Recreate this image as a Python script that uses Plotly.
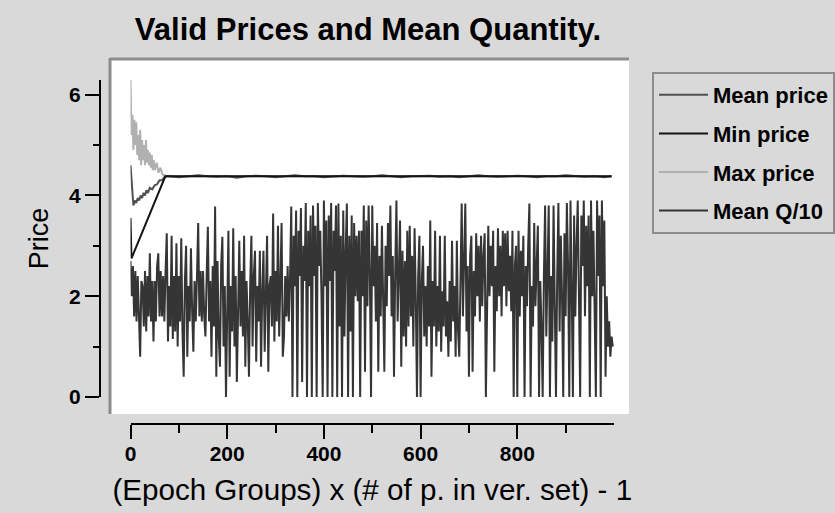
import plotly.graph_objects as go

# ---------------- data ----------------
# Mean Q/10 (sampled every 2.5 epoch units, 0..997.5)
q_x = [i * 2.5 for i in range(400)]
q_y = [
    2.7, 2.0, 2.6, 1.6, 2.5, 1.5, 2.4, 1.6, 0.8, 2.3,
    2.2, 1.4, 2.5, 1.3, 2.4, 1.6, 2.85, 1.5, 2.3, 1.1,
    2.3, 1.5, 2.6, 2.85, 1.6, 2.5, 1.6, 2.4, 1.5, 2.5,
    3.25, 1.1, 2.2, 1.4, 3.2, 1.15, 2.4, 1.3, 3.05, 1.0,
    2.4, 1.5, 3.15, 1.3, 0.4, 2.3, 3.0, 0.8, 2.2, 1.5,
    2.95, 1.7, 0.9, 2.3, 1.5, 2.4, 3.45, 1.6, 2.5, 1.5,
    2.5, 1.6, 1.2, 2.4, 3.38, 1.5, 2.3, 0.8, 2.6, 1.4,
    3.78, 0.4, 2.7, 1.2, 0.6, 2.6, 3.18, 1.0, 2.2, 0.0,
    2.3, 3.3, 0.4, 2.2, 1.3, 3.35, 1.0, 2.4, 0.3, 1.8,
    3.1, 1.4, 2.5, 1.2, 3.2, 0.6, 2.3, 1.5, 0.4, 2.2,
    3.2, 1.0, 2.4, 2.9, 0.7, 2.2, 1.5, 2.9, 0.6, 2.1,
    2.9, 0.9, 2.0, 3.2, 0.5, 2.2, 2.4, 1.4, 3.64, 1.1,
    2.5, 1.5, 3.4, 1.2, 2.3, 3.45, 0.8, 1.2, 2.4, 1.6,
    2.6, 1.5, 2.4, 3.78, 0.0, 3.2, 2.2, 3.7, 0.0, 3.3,
    2.4, 3.75, 0.3, 3.0, 2.3, 3.85, 0.0, 3.3, 2.2, 3.6,
    0.0, 3.8, 2.4, 3.4, 0.0, 3.85, 2.6, 3.3, 2.0, 0.0,
    3.9, 2.2, 3.5, 0.0, 3.6, 2.3, 3.85, 0.0, 3.3, 2.5,
    3.8, 0.0, 3.84, 1.4, 3.2, 0.0, 3.7, 1.2, 2.9, 3.84,
    0.0, 3.2, 1.3, 3.6, 0.0, 3.45, 2.0, 3.2, 1.9, 3.3,
    0.0, 3.3, 2.0, 3.8, 0.5, 3.5, 1.8, 3.8, 2.5, 0.0,
    3.8, 2.2, 3.0, 1.5, 3.45, 0.5, 2.8, 1.6, 3.4, 2.0,
    0.5, 3.0, 1.8, 3.45, 2.4, 3.8, 1.6, 2.8, 0.4, 2.5,
    3.9, 1.5, 2.6, 3.5, 0.6, 2.9, 1.2, 2.7, 1.0, 3.3,
    1.4, 3.4, 1.6, 2.8, 1.0, 3.35, 2.0, 0.0, 2.4, 3.2,
    0.0, 2.3, 3.0, 1.2, 2.2, 1.0, 2.6, 1.4, 3.5, 0.4,
    2.3, 1.4, 3.3, 1.0, 2.2, 1.3, 3.2, 0.9, 2.1, 1.4,
    3.2, 1.2, 1.9, 0.8, 2.3, 1.1, 3.1, 1.5, 2.2, 0.8,
    3.1, 1.3, 0.8, 2.4, 3.84, 1.6, 2.8, 3.84, 1.3, 2.6,
    0.4, 2.8, 3.2, 0.5, 2.5, 1.6, 3.25, 2.0, 3.0, 1.5,
    3.2, 1.8, 2.8, 3.25, 0.0, 2.4, 3.4, 2.0, 3.0, 2.2,
    3.3, 0.5, 2.6, 1.7, 3.35, 2.0, 3.0, 1.6, 3.3, 2.2,
    3.25, 1.8, 3.3, 2.1, 2.8, 1.7, 3.3, 0.0, 2.6, 3.0,
    0.0, 3.3, 1.6, 2.9, 2.0, 3.2, 0.0, 2.6, 1.8, 3.0,
    3.84, 0.0, 2.2, 1.4, 3.45, 1.8, 2.6, 3.4, 0.0, 2.3,
    1.4, 0.0, 2.4, 3.8, 1.2, 2.3, 3.8, 0.0, 2.4, 1.1,
    3.8, 1.8, 0.0, 2.4, 3.85, 1.3, 3.2, 2.0, 0.0, 3.25,
    1.6, 3.85, 2.6, 0.0, 3.9, 2.2, 0.0, 3.6, 1.6, 3.0,
    3.9, 2.0, 0.0, 3.6, 2.6, 3.9, 1.6, 3.4, 2.2, 3.6,
    0.0, 3.9, 2.0, 3.3, 1.6, 0.0, 3.9, 2.4, 3.6, 0.0,
    3.9, 2.2, 3.5, 0.4, 2.0, 1.0, 1.5, 0.8, 1.2, 1.0,
]

# converged part shared by the price curves
tail_x = [80, 100, 120, 140, 160, 180, 200, 220, 240, 260, 280, 300, 320, 340,
          360, 380, 400, 420, 440, 460, 480, 500, 520, 540, 560, 580, 600, 620,
          640, 660, 680, 700, 720, 740, 760, 780, 800, 820, 840, 860, 880, 900,
          920, 940, 960, 980, 995]

mean_head_x = [0, 3, 6, 9, 12, 15, 18, 21, 24, 27, 30, 33, 36, 40, 45, 50, 55, 60, 65, 70, 75]
mean_head_y = [4.6, 4.1, 3.8, 3.9, 3.85, 3.95, 3.9, 4.0, 3.95, 4.05, 4.0, 4.1, 4.05,
               4.15, 4.12, 4.2, 4.22, 4.3, 4.3, 4.36, 4.38]
mean_tail_y = [4.38, 4.36, 4.38, 4.40, 4.38, 4.37, 4.38, 4.35, 4.38, 4.39, 4.38, 4.36,
               4.38, 4.40, 4.38, 4.38, 4.36, 4.38, 4.39, 4.38, 4.37, 4.38, 4.40, 4.38,
               4.36, 4.38, 4.38, 4.39, 4.37, 4.38, 4.36, 4.38, 4.40, 4.38, 4.37, 4.38,
               4.39, 4.38, 4.36, 4.38, 4.38, 4.40, 4.38, 4.37, 4.38, 4.36, 4.38]

min_x = [0, 2, 72, 995]
min_y = [3.55, 2.75, 4.38, 4.38]

max_x = [0, 2, 4, 6, 8, 10, 12, 14, 16, 18, 20, 22, 24, 26, 28, 30, 32, 34, 36, 38,
         40, 42, 44, 46, 48, 50, 54, 58, 62, 66, 70, 75, 995]
max_y = [6.3, 5.2, 5.6, 4.9, 5.5, 5.0, 5.45, 4.8, 5.2, 4.7, 5.3, 4.6, 5.1, 4.7, 5.0,
         4.6, 5.1, 4.65, 4.9, 4.6, 4.85, 4.55, 4.8, 4.5, 4.7, 4.5, 4.65, 4.45, 4.55,
         4.42, 4.4, 4.38, 4.38]

x_ticks = [0, 200, 400, 600, 800]
x_minor = [100, 300, 500, 700, 900]
y_ticks = [0, 2, 4, 6]
y_minor = [1, 3, 5]

# ---------------- figure ----------------
W, H = 835, 513
BG = "#d9d9d9"
FONT = "Liberation Sans, Arial, Helvetica, sans-serif"


def fx(px):
    return px / W


def fy(py):
    return 1 - py / H


fig = go.Figure()

fig.add_trace(go.Scatter(x=max_x, y=max_y, mode="lines", name="Max price",
                         line=dict(color="#b0b0b0", width=2), legendrank=3,
                         legendgroup="c"))
fig.add_trace(go.Scatter(x=mean_head_x + tail_x, y=mean_head_y + mean_tail_y,
                         mode="lines", name="Mean price",
                         line=dict(color="#505050", width=2), legendrank=1,
                         legendgroup="a"))
fig.add_trace(go.Scatter(x=min_x, y=min_y, mode="lines", name="Min price",
                         line=dict(color="#151515", width=2), legendrank=2,
                         legendgroup="b"))
fig.add_trace(go.Scatter(x=q_x, y=q_y, mode="lines", name="Mean Q/10",
                         line=dict(color="#353535", width=2), legendrank=4,
                         legendgroup="d"))

tickfont = dict(family=FONT, size=21, color="black", weight="bold")

fig.update_layout(
    template="none",
    width=W, height=H,
    margin=dict(l=0, r=0, t=0, b=0, autoexpand=False),
    paper_bgcolor=BG,
    plot_bgcolor="white",
    showlegend=True,
    title=dict(text="Valid Prices and Mean Quantity.", x=fx(368), xanchor="center",
               y=fy(29), yanchor="middle",
               font=dict(family=FONT, size=31, color="black", weight="bold")),
    xaxis=dict(
        domain=[fx(130.5), fx(614)], range=[0, 1000], anchor="free", position=fy(424),
        showline=True, linecolor="black", linewidth=2,
        ticks="outside", ticklen=14, tickwidth=2, tickcolor="black",
        tickmode="array", tickvals=x_ticks, ticktext=[str(v) for v in x_ticks],
        minor=dict(tickmode="array", tickvals=x_minor, ticks="outside", ticklen=8,
                   tickwidth=2, tickcolor="black", showgrid=False),
        tickfont=tickfont, showgrid=False, zeroline=False, automargin=False,
        ticklabelstandoff=-3,
        title=dict(text="(Epoch Groups) x (# of p. in ver. set) - 1", standoff=14,
                   font=dict(family=FONT, size=29.6, color="black")),
    ),
    yaxis=dict(
        domain=[fy(397), fy(80)], range=[0, 6.29], anchor="free", position=fx(100),
        showline=True, linecolor="black", linewidth=2,
        ticks="outside", ticklen=14, tickwidth=2, tickcolor="black",
        tickmode="array", tickvals=y_ticks, ticktext=[str(v) for v in y_ticks],
        minor=dict(tickmode="array", tickvals=y_minor, ticks="outside", ticklen=6,
                   tickwidth=2, tickcolor="black", showgrid=False),
        tickfont=tickfont, showgrid=False, zeroline=False, automargin=False,
        title=dict(text="Price", standoff=12,
                   font=dict(family=FONT, size=27, color="black")),
    ),
    legend=dict(
        x=fx(652), y=fy(72), xanchor="left", yanchor="top",
        bgcolor=BG, bordercolor="#8c8c8c", borderwidth=2,
        font=dict(family=FONT, size=22, color="black", weight="bold"),
        tracegroupgap=7, traceorder="grouped", itemwidth=49,
    ),
    shapes=[
        dict(type="rect", xref="paper", yref="paper", x0=fx(111), x1=fx(629),
             y0=fy(414), y1=fy(59), fillcolor="white", line=dict(width=0), layer="below"),
        dict(type="line", xref="paper", yref="paper", x0=fx(110), x1=fx(629),
             y0=fy(59), y1=fy(59), line=dict(color="#8c8c8c", width=3), layer="below"),
        dict(type="line", xref="paper", yref="paper", x0=fx(110), x1=fx(110),
             y0=fy(414), y1=fy(58), line=dict(color="#8c8c8c", width=3), layer="below"),
    ],
)

fig.write_html("out.html", config={"displayModeBar": False},
               post_script="document.body.style.margin='0';")
